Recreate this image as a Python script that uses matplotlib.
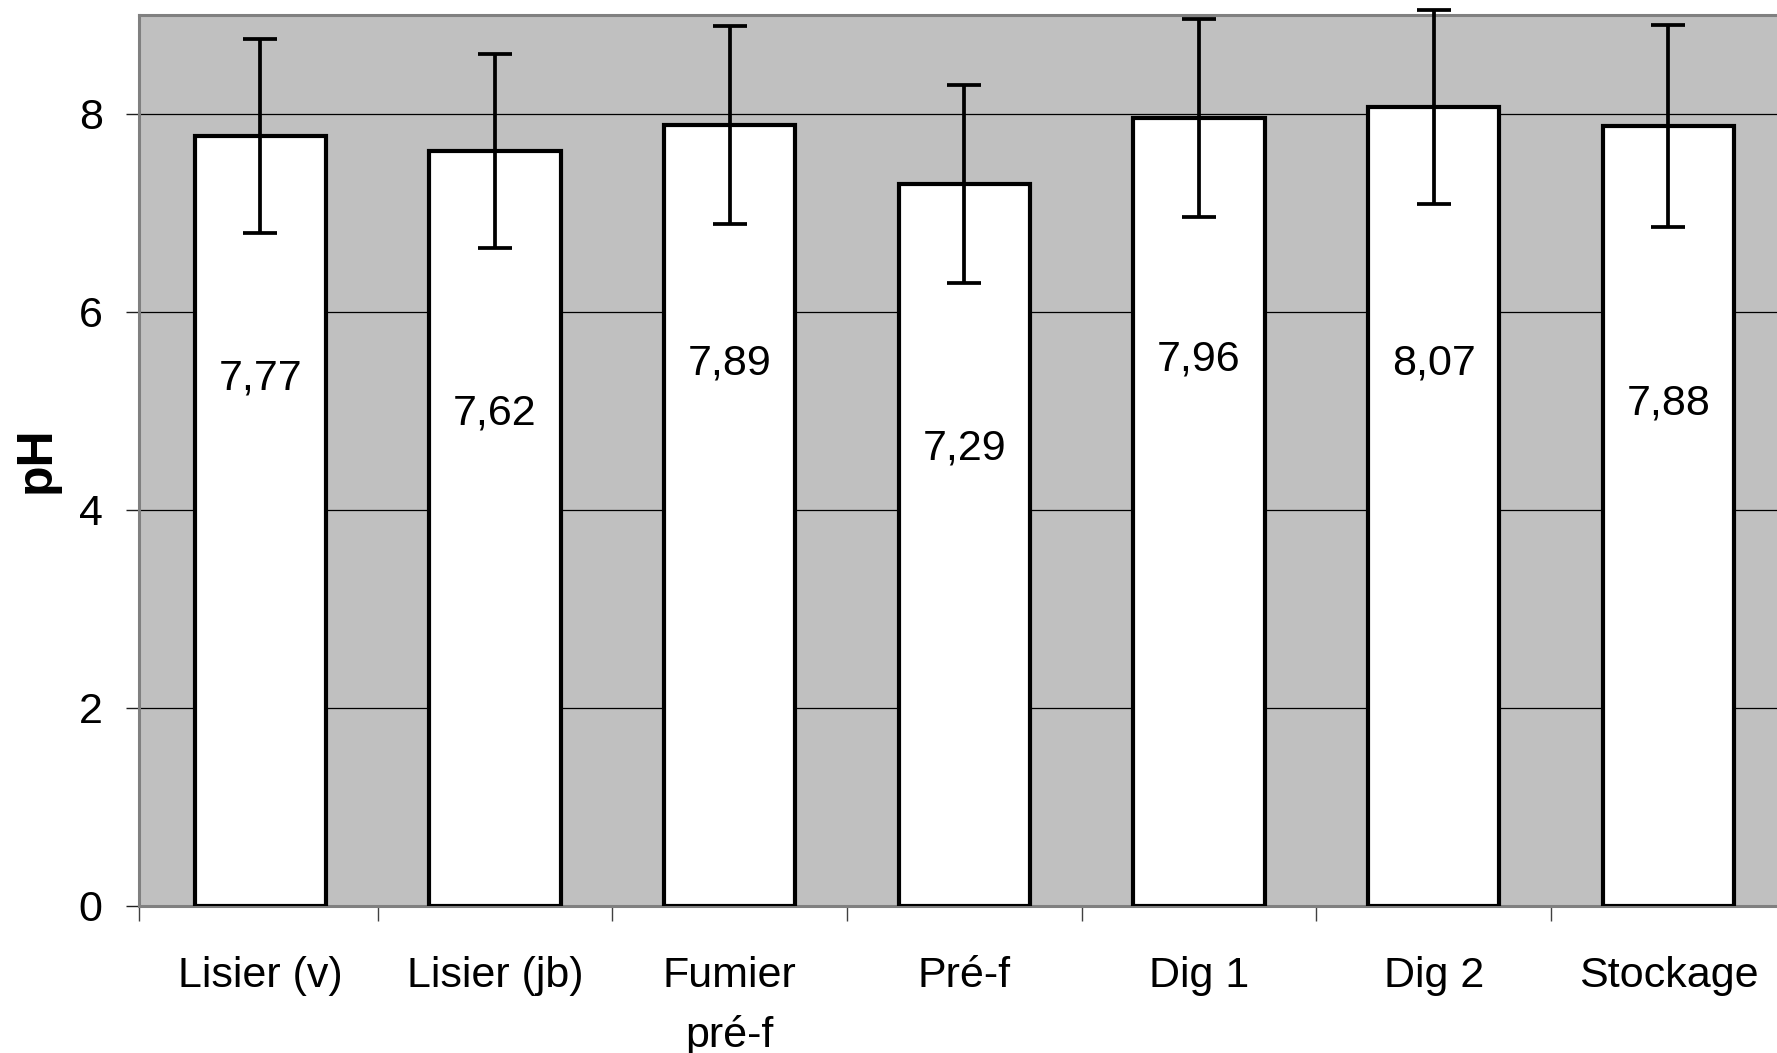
import matplotlib.pyplot as plt
import numpy as np

plt.rcParams['font.family'] = ['Liberation Sans', 'DejaVu Sans']

# data
categories = ["Lisier (v)", "Lisier (jb)", "Fumier\npré-f", "Pré-f", "Dig 1", "Dig 2", "Stockage"]
ph_mean = [7.77, 7.62, 7.89, 7.29, 7.96, 8.07, 7.88]
ph_err = [0.98, 0.98, 1.0, 1.0, 1.0, 0.98, 1.02]
value_labels = ["7,77", "7,62", "7,89", "7,29", "7,96", "8,07", "7,88"]

# height where each value label sits inside its bar
label_y = [5.33, 4.97, 5.48, 4.62, 5.52, 5.48, 5.07]

fig = plt.figure(figsize=(17.77, 10.53), dpi=100)
# the plot area runs a little past the right side of the picture
ax = fig.add_axes([0.0785, 0.140, 0.9264, 0.846])
ax.set_facecolor('#c0c0c0')

x = np.arange(len(categories))
ax.bar(x, ph_mean, width=0.56, color='white', edgecolor='black', linewidth=3.0, zorder=3)
ax.errorbar(x, ph_mean, yerr=ph_err, fmt='none', ecolor='black', elinewidth=2.7,
            capsize=12, capthick=2.7, zorder=4, clip_on=False)

for xi, yi, txt in zip(x, label_y, value_labels):
    ax.text(xi, yi, txt, ha='center', va='center', fontsize=31, zorder=5)

x_left = -0.515
ax.set_ylim(0, 9)
ax.set_xlim(x_left, 6.485)
ax.set_yticks([0, 2, 4, 6, 8])
ax.yaxis.grid(True, color='black', linewidth=0.9, zorder=0)
ax.set_axisbelow(True)

# category names centred under the bars, tick marks between them
ax.set_xticks(x)
ax.set_xticklabels(categories, fontsize=31, linespacing=1.6)
ax.tick_params(axis='x', length=0, pad=36)
ax.set_xticks([x_left] + list(np.arange(0.5, 7.0, 1.0)), minor=True)
ax.tick_params(axis='x', which='minor', length=11, width=1, color='#404040')
ax.tick_params(axis='y', length=9.5, width=1, color='#202020', labelsize=31, pad=17)

for side in ['left', 'top', 'bottom', 'right']:
    ax.spines[side].set_color('#808080')
    ax.spines[side].set_linewidth(2.2)

ax.set_ylabel("pH", fontsize=36, fontweight='bold', labelpad=14)

fig.savefig('out.png', dpi=100)
